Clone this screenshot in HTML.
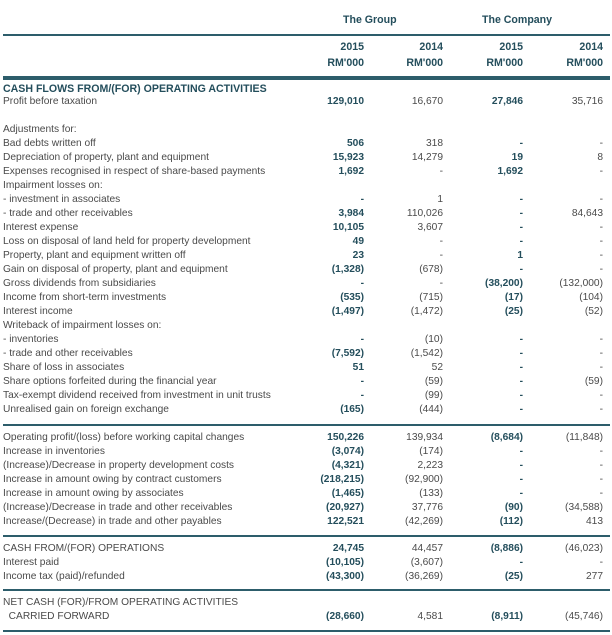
<!DOCTYPE html>
<html><head><meta charset="utf-8"><style>
body{margin:0;background:#fff;}
#p{position:relative;width:612px;height:635px;overflow:hidden;font-family:"Liberation Sans",sans-serif;font-size:10.2px;color:#4a4a4a;}
.r{position:absolute;left:0;width:612px;height:14px;line-height:14px;white-space:nowrap;}
.l{position:absolute;left:3px;}
.c1,.c2,.c3,.c4{position:absolute;}
.c1{right:248px;font-weight:bold;color:#244e5c;}
.c2{right:169px;}
.c3{right:89px;font-weight:bold;color:#244e5c;}
.c4{right:9px;}
.hr{position:absolute;left:3px;width:607px;height:1.5px;background:#2d5d6b;}
.h{font-weight:bold;color:#244e5c;font-size:10.6px;}
</style></head><body><div id="p">
<div class="r h" style="top:13px"><span style="position:absolute;left:343px">The Group</span><span style="position:absolute;left:482px">The Company</span></div>
<div class="hr" style="top:34px"></div>
<div class="r h" style="top:40px"><span class="c1">2015</span><span class="c2 h">2014</span><span class="c3">2015</span><span class="c4 h">2014</span></div>
<div class="r h" style="top:56px"><span class="c1">RM'000</span><span class="c2 h">RM'000</span><span class="c3">RM'000</span><span class="c4 h">RM'000</span></div>
<div class="hr" style="top:76px;height:4px"></div>
<div class="r h" style="top:82px"><span class="l">CASH FLOWS FROM/(FOR) OPERATING ACTIVITIES</span></div>
<div class="r" style="top:95px"><span class="l">Profit before taxation</span><span class="c1">129,010</span><span class="c2">16,670</span><span class="c3">27,846</span><span class="c4">35,716</span></div>
<div class="r" style="top:123px"><span class="l">Adjustments for:</span></div>
<div class="r" style="top:137px"><span class="l">Bad debts written off</span><span class="c1">506</span><span class="c2">318</span><span class="c3">-</span><span class="c4">-</span></div>
<div class="r" style="top:151px"><span class="l">Depreciation of property, plant and equipment</span><span class="c1">15,923</span><span class="c2">14,279</span><span class="c3">19</span><span class="c4">8</span></div>
<div class="r" style="top:165px"><span class="l">Expenses recognised in respect of share-based payments</span><span class="c1">1,692</span><span class="c2">-</span><span class="c3">1,692</span><span class="c4">-</span></div>
<div class="r" style="top:179px"><span class="l">Impairment losses on:</span></div>
<div class="r" style="top:193px"><span class="l">- investment in associates</span><span class="c1">-</span><span class="c2">1</span><span class="c3">-</span><span class="c4">-</span></div>
<div class="r" style="top:207px"><span class="l">- trade and other receivables</span><span class="c1">3,984</span><span class="c2">110,026</span><span class="c3">-</span><span class="c4">84,643</span></div>
<div class="r" style="top:221px"><span class="l">Interest expense</span><span class="c1">10,105</span><span class="c2">3,607</span><span class="c3">-</span><span class="c4">-</span></div>
<div class="r" style="top:235px"><span class="l">Loss on disposal of land held for property development</span><span class="c1">49</span><span class="c2">-</span><span class="c3">-</span><span class="c4">-</span></div>
<div class="r" style="top:249px"><span class="l">Property, plant and equipment written off</span><span class="c1">23</span><span class="c2">-</span><span class="c3">1</span><span class="c4">-</span></div>
<div class="r" style="top:263px"><span class="l">Gain on disposal of property, plant and equipment</span><span class="c1">(1,328)</span><span class="c2">(678)</span><span class="c3">-</span><span class="c4">-</span></div>
<div class="r" style="top:277px"><span class="l">Gross dividends from subsidiaries</span><span class="c1">-</span><span class="c2">-</span><span class="c3">(38,200)</span><span class="c4">(132,000)</span></div>
<div class="r" style="top:291px"><span class="l">Income from short-term investments</span><span class="c1">(535)</span><span class="c2">(715)</span><span class="c3">(17)</span><span class="c4">(104)</span></div>
<div class="r" style="top:305px"><span class="l">Interest income</span><span class="c1">(1,497)</span><span class="c2">(1,472)</span><span class="c3">(25)</span><span class="c4">(52)</span></div>
<div class="r" style="top:319px"><span class="l">Writeback of impairment losses on:</span></div>
<div class="r" style="top:333px"><span class="l">- inventories</span><span class="c1">-</span><span class="c2">(10)</span><span class="c3">-</span><span class="c4">-</span></div>
<div class="r" style="top:347px"><span class="l">- trade and other receivables</span><span class="c1">(7,592)</span><span class="c2">(1,542)</span><span class="c3">-</span><span class="c4">-</span></div>
<div class="r" style="top:361px"><span class="l">Share of loss in associates</span><span class="c1">51</span><span class="c2">52</span><span class="c3">-</span><span class="c4">-</span></div>
<div class="r" style="top:375px"><span class="l">Share options forfeited during the financial year</span><span class="c1">-</span><span class="c2">(59)</span><span class="c3">-</span><span class="c4">(59)</span></div>
<div class="r" style="top:389px"><span class="l">Tax-exempt dividend received from investment in unit trusts</span><span class="c1">-</span><span class="c2">(99)</span><span class="c3">-</span><span class="c4">-</span></div>
<div class="r" style="top:403px"><span class="l">Unrealised gain on foreign exchange</span><span class="c1">(165)</span><span class="c2">(444)</span><span class="c3">-</span><span class="c4">-</span></div>
<div class="hr" style="top:424px"></div>
<div class="r" style="top:431px"><span class="l">Operating profit/(loss) before working capital changes</span><span class="c1">150,226</span><span class="c2">139,934</span><span class="c3">(8,684)</span><span class="c4">(11,848)</span></div>
<div class="r" style="top:445px"><span class="l">Increase in inventories</span><span class="c1">(3,074)</span><span class="c2">(174)</span><span class="c3">-</span><span class="c4">-</span></div>
<div class="r" style="top:459px"><span class="l">(Increase)/Decrease in property development costs</span><span class="c1">(4,321)</span><span class="c2">2,223</span><span class="c3">-</span><span class="c4">-</span></div>
<div class="r" style="top:473px"><span class="l">Increase in amount owing by contract customers</span><span class="c1">(218,215)</span><span class="c2">(92,900)</span><span class="c3">-</span><span class="c4">-</span></div>
<div class="r" style="top:487px"><span class="l">Increase in amount owing by associates</span><span class="c1">(1,465)</span><span class="c2">(133)</span><span class="c3">-</span><span class="c4">-</span></div>
<div class="r" style="top:501px"><span class="l">(Increase)/Decrease in trade and other receivables</span><span class="c1">(20,927)</span><span class="c2">37,776</span><span class="c3">(90)</span><span class="c4">(34,588)</span></div>
<div class="r" style="top:515px"><span class="l">Increase/(Decrease) in trade and other payables</span><span class="c1">122,521</span><span class="c2">(42,269)</span><span class="c3">(112)</span><span class="c4">413</span></div>
<div class="hr" style="top:535px"></div>
<div class="r" style="top:542px"><span class="l">CASH FROM/(FOR) OPERATIONS</span><span class="c1">24,745</span><span class="c2">44,457</span><span class="c3">(8,886)</span><span class="c4">(46,023)</span></div>
<div class="r" style="top:556px"><span class="l">Interest paid</span><span class="c1">(10,105)</span><span class="c2">(3,607)</span><span class="c3">-</span><span class="c4">-</span></div>
<div class="r" style="top:570px"><span class="l">Income tax (paid)/refunded</span><span class="c1">(43,300)</span><span class="c2">(36,269)</span><span class="c3">(25)</span><span class="c4">277</span></div>
<div class="hr" style="top:589px"></div>
<div class="r" style="top:596px"><span class="l">NET CASH (FOR)/FROM OPERATING ACTIVITIES</span></div>
<div class="r" style="top:610px"><span class="l">&nbsp;&nbsp;CARRIED FORWARD</span><span class="c1">(28,660)</span><span class="c2">4,581</span><span class="c3">(8,911)</span><span class="c4">(45,746)</span></div>
<div class="hr" style="top:630px"></div>
</div></body></html>
